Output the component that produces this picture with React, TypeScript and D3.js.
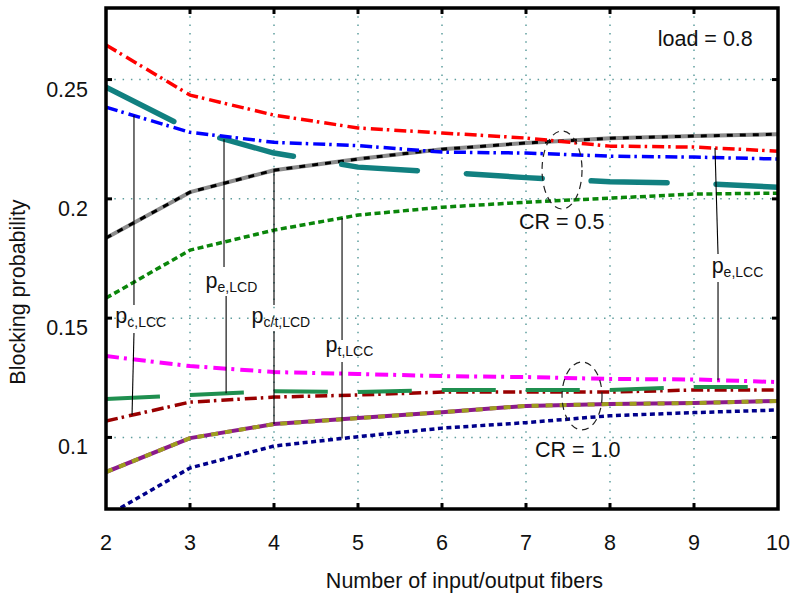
import React from "react";
import * as d3 from "d3";

const fibers = [2, 3, 4, 5, 6, 7, 8, 9, 10];
const xTicks = [2, 3, 4, 5, 6, 7, 8, 9, 10];
const yTicks = [0.1, 0.15, 0.2, 0.25];
const yTickLabels = ["0.1", "0.15", "0.2", "0.25"];

// CR = 0.5
const peLCC05 = [0.2645, 0.2435, 0.2351, 0.2297, 0.2276, 0.2255, 0.2221, 0.2217, 0.22];
const pcLCC05 = [0.2384, 0.2279, 0.2237, 0.2223, 0.2196, 0.2192, 0.2179, 0.2175, 0.2167];
const peLCD05 = [0.2468, 0.229, 0.2192, 0.2133, 0.2112, 0.2089, 0.2072, 0.2066, 0.2049];
const pctLCD05 = [0.1836, 0.2028, 0.212, 0.2167, 0.2208, 0.2234, 0.2254, 0.2263, 0.2271];
const ptLCC05 = [0.1584, 0.1785, 0.1869, 0.1932, 0.1965, 0.1986, 0.2003, 0.202, 0.2024];
// CR = 1.0
const peLCC10 = [0.1341, 0.1299, 0.1274, 0.1266, 0.1257, 0.1253, 0.1245, 0.1243, 0.1232];
const peLCD10 = [0.1161, 0.1178, 0.1194, 0.119, 0.1199, 0.1199, 0.1199, 0.1211, 0.1211];
const pcLCC10 = [0.1069, 0.1148, 0.1169, 0.1178, 0.119, 0.119, 0.119, 0.1199, 0.1199];
const pctLCD10 = [0.0855, 0.0997, 0.1056, 0.1081, 0.1106, 0.1132, 0.114, 0.1144, 0.1153];
const ptLCC10 = [0.067, 0.0872, 0.0964, 0.1003, 0.1039, 0.1062, 0.1091, 0.1104, 0.1115];

type Stroke = { color: string; width: number; dash?: string; cap?: string };
type Series = { values: number[]; strokes: Stroke[] };

const series: Series[] = [
  { values: ptLCC05, strokes: [{ color: "#0a860a", width: 3.5, dash: "6,3.5" }] },
  { values: pctLCD05, strokes: [{ color: "#8c8c8c", width: 4 }, { color: "#000", width: 3, dash: "6,7" }] },
  { values: peLCD05, strokes: [{ color: "#118080", width: 5.5, dash: "76,49", cap: "round" }] },
  { values: pcLCC05, strokes: [{ color: "#0000ff", width: 3.5, dash: "12,4,2.5,5" }] },
  { values: peLCC05, strokes: [{ color: "#ff0000", width: 3.5, dash: "12,4,2.5,5" }] },
  { values: ptLCC10, strokes: [{ color: "#00008b", width: 3.5, dash: "5,3.5" }] },
  { values: pctLCD10, strokes: [{ color: "#8b1a8b", width: 4 }, { color: "#9e9e1e", width: 4, dash: "7,7" }] },
  { values: pcLCC10, strokes: [{ color: "#990000", width: 3.5, dash: "12,4,2.5,5" }] },
  { values: peLCD10, strokes: [{ color: "#1f8f4f", width: 4, dash: "54,30" }] },
  { values: peLCC10, strokes: [{ color: "#ff00ff", width: 4, dash: "13,5,3,6" }] },
];

// labels: text start (fibers), baseline (probability)
const labelMain = ["p", "p", "p", "p", "p"];
const labelSub = ["c,LCC", "e,LCD", "c/t,LCD", "t,LCC", "e,LCC"];
const labelX = [2.111, 3.186, 3.733, 4.614, 9.21];
const labelY = [0.148, 0.1626, 0.148, 0.1358, 0.1689];

// leader lines: from (n1, v1) to series value at n2
const leaderN1 = [2.333, 2.333, 3.405, 3.43, 4.0, 4.0, 4.81, 4.81, 9.286, 9.286];
const leaderV1 = [0.1555, 0.1438, 0.1714, 0.1593, 0.1555, 0.1446, 0.1408, 0.1316, 0.1769, 0.1652];
const leaderN2 = [2.333, 2.31, 3.405, 3.43, 4.0, 4.0, 4.81, 4.81, 9.25, 9.286];
const leaderSeries = [pcLCC05, pcLCC10, peLCD05, peLCD10, pctLCD05, pctLCD10, ptLCC05, ptLCC10, peLCC05, peLCC10];

const ellipseN = [7.429, 7.667];
const ellipseV = [0.2121, 0.1174];
const ellipseRN = [0.238, 0.238];
const ellipseRV = [0.01635, 0.01425];
const crTexts = ["CR = 0.5", "CR = 1.0"];
const crN = [6.917, 7.107];
const crV = [0.1874, 0.0918];

const FONT = "'Liberation Sans', Arial, Helvetica, sans-serif";
const FS = 21.5;

function interp(vals: number[], n: number) {
  const i = Math.min(Math.max(Math.floor(n) - 2, 0), vals.length - 2);
  const t = n - (i + 2);
  return vals[i] + (vals[i + 1] - vals[i]) * t;
}

export default function App() {
  const W = 796, H = 593;
  const left = 106, right = 778, top = 8, bottom = 509;
  const x = d3.scaleLinear().domain([2, 10]).range([left, right]);
  const y = d3.scaleLinear().domain([0.07, 0.28]).range([bottom, top]);
  const line = d3
    .line<number>()
    .x((_, i) => x(fibers[i]))
    .y((d) => y(d));

  return (
    <svg width={W} height={H} style={{ position: "absolute", left: 0, top: 0, background: "#fff" }} fontFamily={FONT}>
      <defs>
        <clipPath id="plot">
          <rect x={left} y={top} width={right - left} height={bottom - top} />
        </clipPath>
      </defs>
      <rect x={0} y={0} width={W} height={H} fill="#fff" />
      {/* grid */}
      {xTicks.slice(1, -1).map((t) => (
        <line key={"gx" + t} x1={x(t)} x2={x(t)} y1={top} y2={bottom} stroke="#5f9e9e" strokeWidth={1.5} strokeDasharray="1.5,6.8" />
      ))}
      {yTicks.map((t) => (
        <line key={"gy" + t} x1={left} x2={right} y1={y(t)} y2={y(t)} stroke="#5f9e9e" strokeWidth={1.5} strokeDasharray="1.5,6.8" />
      ))}
      {/* series */}
      <g clipPath="url(#plot)">
        {series.map((s, si) =>
          s.strokes.map((st, k) => (
            <path
              key={si + "-" + k}
              d={line(s.values) || ""}
              fill="none"
              stroke={st.color}
              strokeWidth={st.width}
              strokeDasharray={st.dash}
              strokeLinecap={(st.cap as any) || "butt"}
              strokeLinejoin="round"
            />
          ))
        )}
      </g>
      {/* leader lines */}
      {leaderN1.map((n1, i) => (
        <line
          key={"ld" + i}
          x1={x(n1)}
          y1={y(leaderV1[i])}
          x2={x(leaderN2[i])}
          y2={y(interp(leaderSeries[i], leaderN2[i]))}
          stroke="#000"
          strokeWidth={1.1}
        />
      ))}
      {/* labels */}
      {labelMain.map((m, i) => (
        <text key={"lb" + i} x={x(labelX[i])} y={y(labelY[i])} fontSize={FS} fill="#111">
          {m}
          <tspan fontSize={14} dy={4}>
            {labelSub[i]}
          </tspan>
        </text>
      ))}
      {/* ellipses */}
      {ellipseN.map((n, i) => (
        <ellipse
          key={"el" + i}
          cx={x(n)}
          cy={y(ellipseV[i])}
          rx={x(2 + ellipseRN[i]) - x(2)}
          ry={y(0.1) - y(0.1 + ellipseRV[i])}
          fill="none"
          stroke="#222"
          strokeWidth={1.2}
          strokeDasharray="7,5"
        />
      ))}
      {crTexts.map((t, i) => (
        <text key={"cr" + i} x={x(crN[i])} y={y(crV[i])} fontSize={FS} fill="#111">
          {t}
        </text>
      ))}
      <text x={x(9.7)} y={y(0.2641)} fontSize={FS} textAnchor="end" fill="#111">
        load = 0.8
      </text>
      {/* frame */}
      <rect x={left} y={top} width={right - left} height={bottom - top} fill="none" stroke="#000" strokeWidth={3.5} />
      {xTicks.slice(1, -1).map((t) => (
        <g key={"tx" + t}>
          <line x1={x(t)} x2={x(t)} y1={bottom} y2={bottom - 6} stroke="#000" strokeWidth={3} />
          <line x1={x(t)} x2={x(t)} y1={top} y2={top + 6} stroke="#000" strokeWidth={3} />
        </g>
      ))}
      {yTicks.map((t) => (
        <g key={"ty" + t}>
          <line x1={left} x2={left + 6} y1={y(t)} y2={y(t)} stroke="#000" strokeWidth={3} />
          <line x1={right} x2={right - 6} y1={y(t)} y2={y(t)} stroke="#000" strokeWidth={3} />
        </g>
      ))}
      {/* tick labels */}
      {xTicks.map((t) => (
        <text key={"xl" + t} x={x(t)} y={bottom + 41} fontSize={FS} textAnchor="middle" fill="#111">
          {t}
        </text>
      ))}
      {yTicks.map((t, i) => (
        <text key={"yl" + t} x={left - 18} y={y(t) + 17} fontSize={FS} textAnchor="end" fill="#111">
          {yTickLabels[i]}
        </text>
      ))}
      <text x={464.5} y={588} fontSize={FS} textAnchor="middle" fill="#111">
        Number of input/output fibers
      </text>
      <text transform="translate(25,292) rotate(-90)" fontSize={FS} textAnchor="middle" fill="#111">
        Blocking probability
      </text>
    </svg>
  );
}
